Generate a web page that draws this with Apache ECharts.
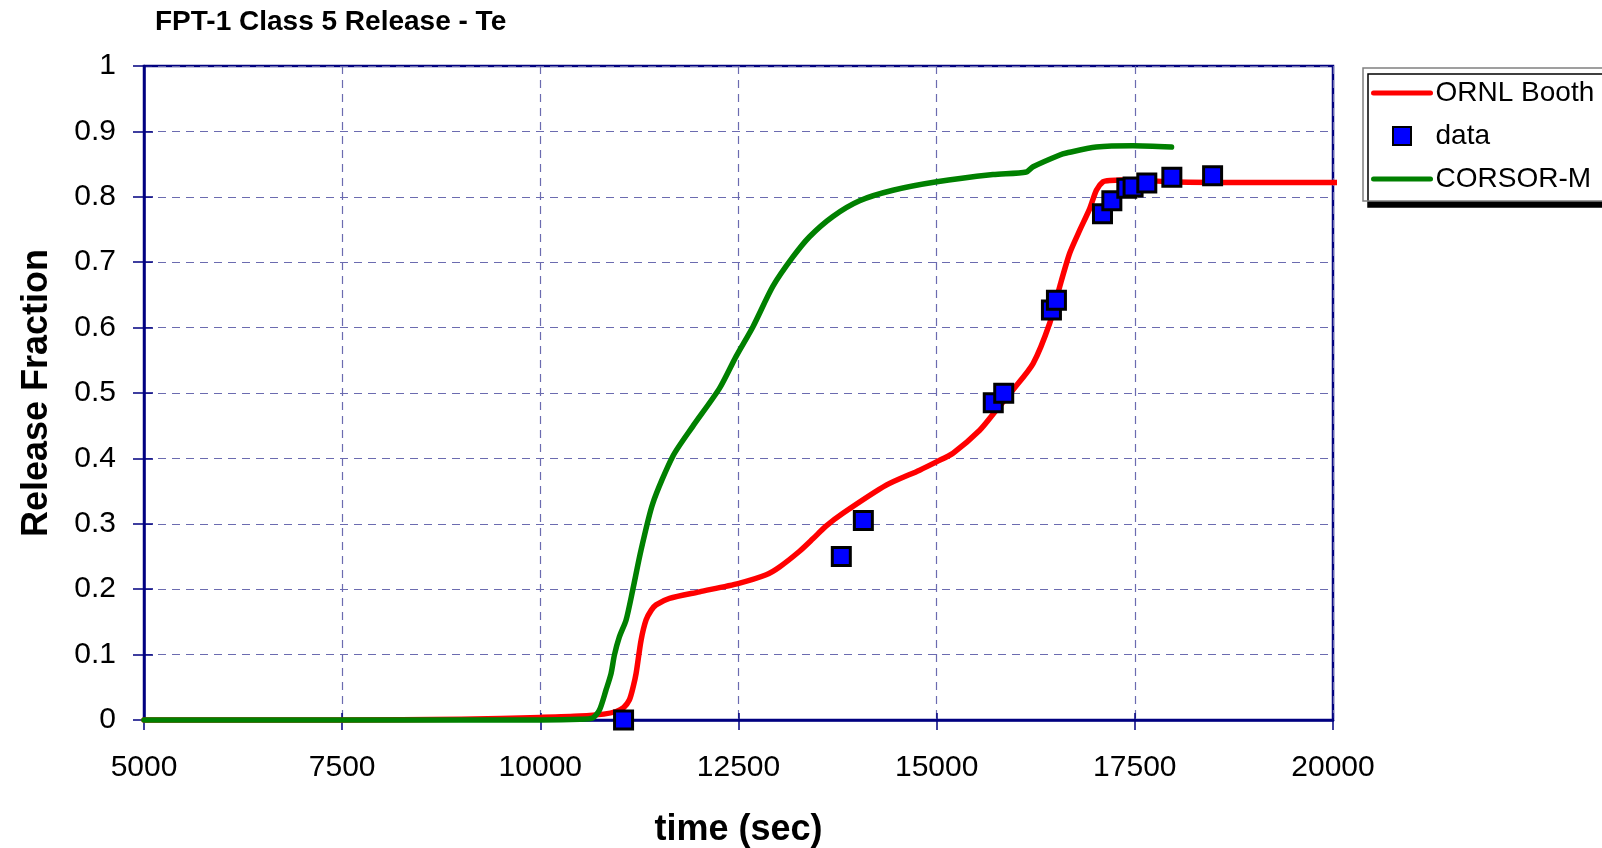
<!DOCTYPE html>
<html>
<head>
<meta charset="utf-8">
<title>FPT-1 Class 5 Release - Te</title>
<script src="https://cdn.jsdelivr.net/npm/echarts@6/dist/echarts.min.js"></script>
<style>
  html, body { margin: 0; padding: 0; background: #ffffff; }
  #chart { width: 1602px; height: 848px; }
</style>
</head>
<body>
<div id="chart"></div>
<script>
// Time axis ticks (seconds)
const xTicks = [5000, 7500, 10000, 12500, 15000, 17500, 20000];
// Release fraction ticks
const yTicks = [0, 0.1, 0.2, 0.3, 0.4, 0.5, 0.6, 0.7, 0.8, 0.9, 1];

// ORNL Booth model: [time (sec), release fraction]
const ornlBooth = [
  [5000, 0], [7500, 0], [9000, 0.001], [10000, 0.004], [10500, 0.006],
  [10800, 0.009], [10956, 0.013], [11050, 0.019], [11124, 0.031], [11170, 0.05],
  [11208, 0.071], [11271, 0.122], [11334, 0.153], [11400, 0.168], [11460, 0.176],
  [11629, 0.186], [12008, 0.196], [12504, 0.209], [12849, 0.222], [13018, 0.234],
  [13270, 0.258], [13438, 0.277], [13600, 0.296], [13817, 0.316], [14364, 0.359],
  [14785, 0.382], [15003, 0.395], [15206, 0.408], [15543, 0.443], [15754, 0.474],
  [15963, 0.505], [16216, 0.545], [16427, 0.607], [16553, 0.663], [16679, 0.714],
  [16805, 0.749], [16931, 0.782], [17015, 0.810], [17099, 0.823], [17184, 0.825],
  [17500, 0.826], [17900, 0.823], [18500, 0.822], [20000, 0.822], [20100, 0.822]
];

// Measured release data: [time (sec), release fraction]
const measured = [
  [11050, 0], [13797, 0.250], [14075, 0.305], [15714, 0.485], [15846, 0.4995],
  [16448, 0.627], [16511, 0.642], [17092, 0.774], [17210, 0.794], [17399, 0.813],
  [17478, 0.815], [17651, 0.821], [17967, 0.830], [18481, 0.832]
];

// CORSOR-M model: [time (sec), release fraction]
const corsorM = [
  [5000, 0], [9000, 0], [10000, 0], [10500, 0.001], [10660, 0.003],
  [10745, 0.015], [10829, 0.046], [10892, 0.071], [10934, 0.099], [10997, 0.127],
  [11082, 0.153], [11166, 0.199], [11271, 0.260], [11418, 0.331], [11670, 0.403],
  [11923, 0.449], [12260, 0.507], [12470, 0.556], [12681, 0.601], [12933, 0.663],
  [13186, 0.708], [13396, 0.739], [13691, 0.770], [14028, 0.794], [14448, 0.810],
  [15003, 0.823], [15711, 0.834], [16132, 0.838], [16216, 0.846], [16553, 0.864],
  [16637, 0.867], [17015, 0.876], [17474, 0.878], [17963, 0.876]
];

const FONT = '"Liberation Sans", Arial, sans-serif';
const NAVY = '#000080';
const GRID = '#6b6bb0';
const SQUARE = 'path://M0,0L10,0L10,10L0,10Z';

const chart = echarts.init(document.getElementById('chart'), null, { renderer: 'canvas' });

const xStep = xTicks[1] - xTicks[0];
const yStep = yTicks[1] - yTicks[0];

chart.setOption({
  animation: false,
  backgroundColor: '#ffffff',
  title: {
    text: 'FPT-1 Class 5 Release - Te',
    left: 155,
    top: 8,
    padding: 0,
    textStyle: { fontFamily: FONT, fontSize: 28, fontWeight: 'bold', color: '#000' }
  },
  legend: {
    orient: 'vertical',
    left: 1363,
    top: 68,
    padding: [10, 40, 7, 8],
    itemGap: 13,
    itemWidth: 57,
    itemHeight: 18,
    backgroundColor: '#ffffff',
    borderColor: '#808080',
    borderWidth: 1.5,
    shadowColor: '#000000',
    shadowBlur: 0,
    shadowOffsetX: 5,
    shadowOffsetY: 6,
    lineStyle: { width: 5, cap: 'round' },
    textStyle: { fontFamily: FONT, fontSize: 28, color: '#000', lineHeight: 30 },
    data: [
      { name: 'ORNL Booth', itemStyle: { opacity: 0 } },
      { name: 'data', icon: SQUARE },
      { name: 'CORSOR-M', itemStyle: { opacity: 0 } }
    ]
  },
  grid: {
    left: 144, top: 66, right: 269, bottom: 128,
    outerBoundsMode: 'none',
    containLabel: false,
    show: true,
    borderColor: NAVY,
    borderWidth: 2.5,
    backgroundColor: 'transparent'
  },
  xAxis: [{
    type: 'value',
    min: xTicks[0],
    max: xTicks[xTicks.length - 1],
    interval: xStep,
    name: 'time (sec)',
    nameLocation: 'middle',
    nameGap: 92,
    nameTextStyle: { fontFamily: FONT, fontSize: 36, fontWeight: 'bold', color: '#000', lineHeight: 36 },
    axisLine: { show: true, lineStyle: { color: NAVY, width: 2.5 } },
    axisTick: { show: true, length: 10, lineStyle: { color: NAVY, width: 1.5 } },
    axisLabel: {
      margin: 33, fontFamily: FONT, fontSize: 30, color: '#000', lineHeight: 30,
      formatter: v => String(v)
    },
    splitLine: { show: true, lineStyle: { color: GRID, width: 1.2, type: [8, 6] } }
  }, {
    // inner half of the crossing ticks
    type: 'value',
    position: 'bottom',
    min: xTicks[0],
    max: xTicks[xTicks.length - 1],
    interval: xStep,
    axisLine: { show: false },
    axisTick: { show: true, inside: true, length: 7, lineStyle: { color: NAVY, width: 1.5 } },
    axisLabel: { show: false },
    splitLine: { show: false }
  }],
  yAxis: [{
    type: 'value',
    min: yTicks[0],
    max: yTicks[yTicks.length - 1],
    interval: yStep,
    name: 'Release Fraction',
    nameLocation: 'middle',
    nameGap: 89,
    nameTextStyle: { fontFamily: FONT, fontSize: 36, fontWeight: 'bold', color: '#000', lineHeight: 36 },
    axisLine: { show: true, lineStyle: { color: NAVY, width: 2.5 } },
    axisTick: { show: true, length: 11, lineStyle: { color: NAVY, width: 1.5 } },
    axisLabel: {
      margin: 28, fontFamily: FONT, fontSize: 30, color: '#000',
      formatter: v => String(Math.round(v * 10) / 10)
    },
    splitLine: { show: true, lineStyle: { color: GRID, width: 1.2, type: [8, 6] } }
  }, {
    type: 'value',
    position: 'left',
    min: yTicks[0],
    max: yTicks[yTicks.length - 1],
    interval: yStep,
    axisLine: { show: false },
    axisTick: { show: true, inside: true, length: 9, lineStyle: { color: NAVY, width: 1.5 } },
    axisLabel: { show: false },
    splitLine: { show: false }
  }],
  series: [{
    name: 'ORNL Booth',
    type: 'line',
    data: ornlBooth,
    symbol: 'none',
    smooth: 0.25,
    clip: false,
    z: 3,
    lineStyle: { color: '#ff0000', width: 5.5, cap: 'round', join: 'round' },
    itemStyle: { color: '#ff0000' }
  }, {
    name: 'data',
    type: 'scatter',
    data: measured,
    symbol: 'rect',
    symbolSize: 18,
    clip: false,
    z: 5,
    itemStyle: { color: '#0000ff', borderColor: '#000000', borderWidth: 3, opacity: 1 }
  }, {
    name: 'CORSOR-M',
    type: 'line',
    data: corsorM,
    symbol: 'none',
    smooth: 0.25,
    clip: false,
    z: 4,
    lineStyle: { color: '#008000', width: 5.5, cap: 'round', join: 'round' },
    itemStyle: { color: '#008000' }
  }]
});
</script>
</body>
</html>
